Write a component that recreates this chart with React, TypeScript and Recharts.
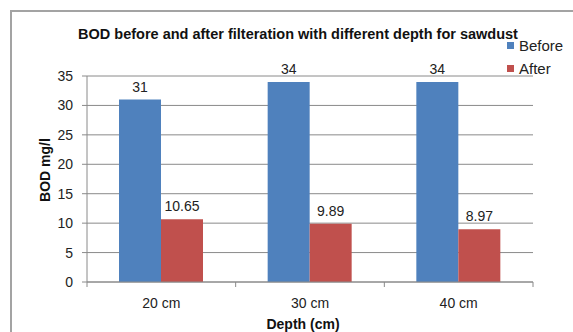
import { BarChart, Bar, CartesianGrid, XAxis, YAxis, LabelList } from 'recharts';

const depths = ['20 cm', '30 cm', '40 cm'];
const before = [31, 34, 34];
const after = [10.65, 9.89, 8.97];
const yTicks = [0, 5, 10, 15, 20, 25, 30, 35];

const BLUE = '#4F81BD';
const RED = '#C0504D';
const GRID = '#8a8a8a';
const FONT = '"Liberation Sans", Arial, sans-serif';

const PLOT_LEFT = 87;
const PLOT_RIGHT = 533;
const BAND = (PLOT_RIGHT - PLOT_LEFT) / depths.length;

// category labels with tick marks on the band edges
const DepthTick = ({ x, y, payload, index }: any) => (
  <g>
    {index === 0 && <line x1={x - BAND / 2} y1={y - 8} x2={x - BAND / 2} y2={y - 3} stroke={GRID} />}
    <line x1={x + BAND / 2} y1={y - 8} x2={x + BAND / 2} y2={y - 3} stroke={GRID} />
    <text x={x} y={y + 18} textAnchor="middle" fill="#222" fontSize={14} fontFamily={FONT}>
      {payload.value}
    </text>
  </g>
);

export default function App() {
  const data = depths.map((d, i) => ({ depth: d, before: before[i], after: after[i] }));

  return (
    <div
      style={{
        position: 'absolute',
        left: 0,
        top: 0,
        width: 573,
        height: 332,
        overflow: 'hidden',
        background: '#fff',
        fontFamily: FONT,
      }}
    >
      {/* chart frame */}
      <div
        style={{
          position: 'absolute',
          left: 10,
          top: 10,
          width: 640,
          height: 400,
          border: '2px solid #a3a3a3',
        }}
      />
      <BarChart
        width={573}
        height={332}
        data={data}
        margin={{ top: 76, right: 573 - PLOT_RIGHT, bottom: 0, left: 0 }}
        barGap={0}
        barCategoryGap={32}
        style={{ position: 'absolute', left: 0, top: 0 }}
      >
        <CartesianGrid vertical={false} stroke={GRID} />
        <XAxis
          dataKey="depth"
          height={50}
          axisLine={{ stroke: GRID }}
          tickLine={false}
          tick={<DepthTick />}
          interval={0}
        />
        <YAxis
          width={PLOT_LEFT}
          domain={[0, 35]}
          ticks={yTicks}
          axisLine={{ stroke: GRID }}
          tickLine={{ stroke: GRID }}
          tickSize={5}
          tickMargin={9}
          tick={{ fill: '#222', fontSize: 14, fontFamily: FONT }}
        />
        <Bar dataKey="before" fill={BLUE} isAnimationActive={false}>
          <LabelList dataKey="before" position="top" offset={8} fill="#222" fontSize={14} fontFamily={FONT} />
        </Bar>
        <Bar dataKey="after" fill={RED} isAnimationActive={false}>
          <LabelList dataKey="after" position="top" offset={8} fill="#222" fontSize={14} fontFamily={FONT} />
        </Bar>
      </BarChart>

      {/* title */}
      <div
        style={{
          position: 'absolute',
          left: 298,
          top: 34,
          transform: 'translate(-50%, -50%)',
          fontWeight: 'bold',
          fontSize: 14.5,
          whiteSpace: 'nowrap',
          color: '#111',
        }}
      >
        BOD before and after filteration with different depth for sawdust
      </div>

      {/* legend */}
      {[
        { name: 'Before', color: BLUE, top: 37 },
        { name: 'After', color: RED, top: 60 },
      ].map((item) => (
        <div
          key={item.name}
          style={{ position: 'absolute', left: 507, top: item.top, display: 'flex', alignItems: 'center', fontSize: 15, color: '#222' }}
        >
          <span style={{ width: 7, height: 7, background: item.color, marginRight: 5, display: 'inline-block' }} />
          {item.name}
        </div>
      ))}

      {/* axis titles */}
      <div
        style={{
          position: 'absolute',
          left: 45,
          top: 170,
          transform: 'translate(-50%, -50%) rotate(-90deg)',
          fontWeight: 'bold',
          fontSize: 14,
          whiteSpace: 'nowrap',
          color: '#111',
        }}
      >
        BOD mg/l
      </div>
      <div
        style={{
          position: 'absolute',
          left: 303,
          top: 324,
          transform: 'translate(-50%, -50%)',
          fontWeight: 'bold',
          fontSize: 14,
          whiteSpace: 'nowrap',
          color: '#111',
        }}
      >
        Depth (cm)
      </div>
    </div>
  );
}
